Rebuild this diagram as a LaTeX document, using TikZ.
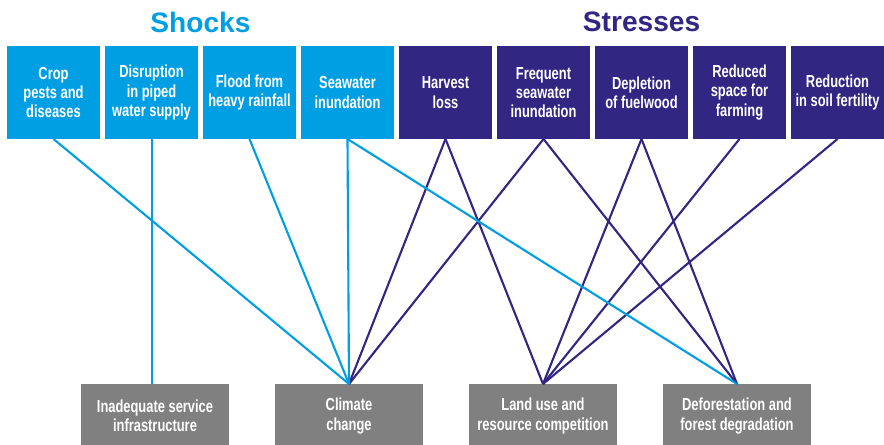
\documentclass[tikz,border=0pt]{standalone}
\usepackage{fontspec}
\setmainfont{Liberation Sans}
\newfontfamily\narrowfont{Liberation Sans}[FakeStretch=0.74]
\usetikzlibrary{positioning}
\definecolor{shockblue}{RGB}{0,159,227}
\definecolor{stressblue}{RGB}{50,38,131}
\definecolor{drivergrey}{RGB}{128,128,128}

\begin{document}
\begin{tikzpicture}[
    box/.style={minimum width=2.325cm, minimum height=2.325cm, inner sep=0pt,
      outer sep=0pt, align=center, text=white,
      font=\narrowfont\bfseries\fontsize{12.4}{13.8}\selectfont},
    shock/.style={box, fill=shockblue},
    stress/.style={box, fill=stressblue},
    driver/.style={box, fill=drivergrey, minimum width=3.7cm, minimum height=1.6cm},
    title/.style={font=\bfseries\fontsize{20}{24}\selectfont},
    link/.style={line width=1.5pt},
  ]
  \useasboundingbox (0,0) rectangle (22.1,-11.125);
          % shocks and stresses
          \node[shock, anchor=north west] (crop) at (0.175,-1.15) {Crop\\pests and\\diseases};
          \node[shock, right=0.125cm of crop] (piped) {Disruption\\in piped\\water supply};
          \node[shock, right=0.125cm of piped] (flood) {Flood from\\heavy rainfall};
          \node[shock, right=0.125cm of flood] (seawater) {Seawater\\inundation};
          \node[stress, right=0.125cm of seawater] (harvest) {Harvest\\loss};
          \node[stress, right=0.125cm of harvest] (frequent) {Frequent\\seawater\\inundation};
          \node[stress, right=0.125cm of frequent] (fuelwood) {Depletion\\of fuelwood};
          \node[stress, right=0.125cm of fuelwood] (space) {Reduced\\space for\\farming};
          \node[stress, right=0.125cm of space] (soil) {Reduction\\in soil fertility};
          \node[title, text=shockblue] (shocks) at (5.0125,-0.55) {Shocks};
          \node[title, text=stressblue] (stresses) at (16.04,-0.55) {Stresses};
          % drivers
          \node[driver, anchor=north west] (infra) at (2.025,-9.6) {Inadequate service\\infrastructure};
          \node[driver, right=1.15cm of infra] (climate) {Climate\\change};
          \node[driver, right=1.15cm of climate] (landuse) {Land use and\\resource competition};
          \node[driver, right=1.15cm of landuse] (forest) {Deforestation and\\forest degradation};
          \draw[link, stressblue]
              (harvest.south) edge (climate.north)
              (harvest.south) edge (landuse.north)
              (frequent.south) edge (climate.north)
              (frequent.south) edge (forest.north)
              (fuelwood.south) edge (landuse.north)
              (fuelwood.south) edge (forest.north)
              (space.south) edge (landuse.north)
              (soil.south) edge (landuse.north);
          \draw[link, shockblue]
              (crop.south) edge (climate.north)
              (flood.south) edge (climate.north)
              (seawater.south) edge (climate.north)
              (seawater.south) edge (forest.north);
          \draw[link, shockblue] ([xshift=0.3pt]piped.south) -- ([xshift=0.3pt]piped.south |- infra.north);
\end{tikzpicture}
\end{document}
